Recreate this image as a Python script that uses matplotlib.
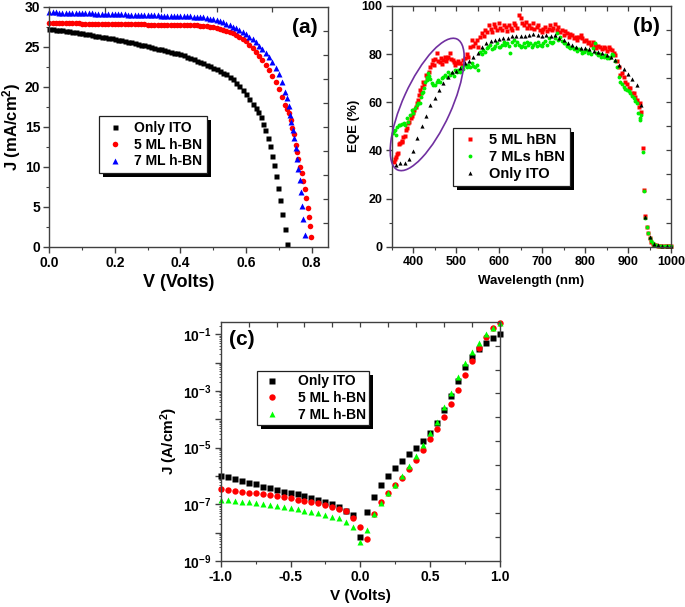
import numpy as np
import matplotlib
matplotlib.use('Agg')
import matplotlib.pyplot as plt
from matplotlib.patches import Ellipse, Rectangle
from matplotlib.transforms import IdentityTransform
from matplotlib.ticker import FixedLocator, NullFormatter, LogLocator, FuncFormatter, MultipleLocator

plt.rcParams['font.family'] = ['Liberation Sans', 'DejaVu Sans']
plt.rcParams['font.weight'] = 'bold'
plt.rcParams['axes.labelweight'] = 'bold'
plt.rcParams['mathtext.fontset'] = 'custom'
plt.rcParams['mathtext.rm'] = 'Liberation Sans:bold'
plt.rcParams['mathtext.bf'] = 'Liberation Sans:bold'
plt.rcParams['mathtext.it'] = 'Liberation Sans:bold'

# ---------------- (a) J-V under illumination ----------------
a_labels = ['Only ITO', '5 ML h-BN', '7 ML h-BN']
a_ito_v = np.round(np.arange(0, 0.635, 0.01), 2).tolist() + [0.637, 0.645, 0.652, 0.659, 0.666, 0.672, 0.679, 0.685, 0.692, 0.698, 0.705, 0.711, 0.719, 0.725]
a_ito_j = [27.30, 27.24, 27.18, 27.12, 27.06, 27.00, 26.94, 26.88, 26.82, 26.76,
           26.70, 26.63, 26.56, 26.50, 26.43, 26.36, 26.29, 26.22, 26.15, 26.08,
           26.00, 25.92, 25.83, 25.75, 25.66, 25.57, 25.48, 25.39, 25.30, 25.20,
           25.10, 25.00, 24.90, 24.80, 24.70, 24.60, 24.50, 24.40, 24.30, 24.20,
           24.10, 23.94, 23.78, 23.62, 23.46, 23.30, 23.12, 22.94, 22.76, 22.58,
           22.40, 22.20, 22.00, 21.80, 21.60, 21.30, 21.00, 20.55, 20.10, 19.60,
           19.10, 18.45, 17.80, 17.35,
           16.9, 16.2, 15.4, 14.6, 13.6, 12.6, 11.4, 10.2, 8.8, 7.3, 5.8, 4.05, 2.25, 0.3]
a_5ml_v = np.round(np.arange(0, 0.725, 0.01), 2).tolist() + [0.726, 0.731, 0.737, 0.741, 0.746, 0.751, 0.755, 0.759, 0.764, 0.770, 0.774, 0.779, 0.784, 0.788, 0.792, 0.795, 0.799]
a_5ml_j = [28.00, 27.99, 27.99, 27.98, 27.97, 27.97, 27.96, 27.95, 27.95, 27.94,
           27.93, 27.93, 27.92, 27.91, 27.91, 27.90, 27.89, 27.89, 27.88, 27.87,
           27.87, 27.86, 27.85, 27.85, 27.84, 27.83, 27.83, 27.82, 27.81, 27.81,
           27.80, 27.79, 27.79, 27.78, 27.77, 27.77, 27.76, 27.75, 27.75, 27.74,
           27.73, 27.73, 27.72, 27.71, 27.71, 27.70,
           27.67, 27.63, 27.58, 27.53, 27.47, 27.39, 27.30, 27.18, 27.05, 26.90,
           26.73, 26.52, 26.28, 26.00, 25.70, 25.30, 24.90, 24.40, 23.90, 23.35,
           22.75, 22.10, 21.40, 20.60, 19.70, 18.70, 17.70,
           17.25, 16.75, 15.85, 14.9, 14.1, 12.7, 11.9, 11.0, 10.0, 9.2, 8.2, 7.2, 6.05, 4.9, 3.75, 2.55, 1.2]
a_7ml_v = np.round(np.arange(0, 0.725, 0.01), 2).tolist() + [0.726, 0.730, 0.734, 0.738, 0.742, 0.746, 0.751, 0.755, 0.759, 0.764, 0.767, 0.770, 0.774, 0.779]
a_7ml_j = [29.35, 29.34, 29.33, 29.31, 29.30, 29.29, 29.28, 29.26, 29.25, 29.24,
           29.23, 29.21, 29.20, 29.19, 29.18, 29.17, 29.15, 29.14, 29.13, 29.12,
           29.10, 29.09, 29.08, 29.07, 29.05, 29.04, 29.03, 29.02, 29.01, 28.99,
           28.98, 28.97, 28.96, 28.94, 28.93, 28.92, 28.91, 28.89, 28.88, 28.87,
           28.86, 28.85, 28.83, 28.82, 28.81, 28.80,
           28.75, 28.70, 28.63, 28.55, 28.45, 28.35, 28.23, 28.08, 27.92, 27.75,
           27.55, 27.33, 27.10, 26.85, 26.57, 26.28, 25.95, 25.58, 25.18, 24.74,
           24.25, 23.70, 23.10, 22.40, 21.60, 20.60, 19.40,
           18.6, 17.6, 16.5, 15.55, 14.6, 13.55, 12.4, 11.0, 9.7, 8.3, 6.8, 5.1, 3.45, 1.5]

# ---------------- (b) EQE ----------------
b_labels = ['5 ML hBN', '7 MLs hBN', 'Only ITO']
b_5ml_wl = [355, 358, 360, 363, 365, 368, 370, 373, 375, 377, 380, 383, 385, 388, 391, 395, 398, 400, 403, 406,
            409, 412, 414, 416, 418, 420, 423, 426, 430, 433, 437, 440, 443, 445, 448, 451, 455, 458, 462, 465,
            468, 470, 473, 476, 478, 482, 486, 489, 492, 494, 497, 501, 505, 509, 513, 517, 521, 525, 528, 532,
            536, 540, 544, 548, 552, 556, 560, 564, 568, 572, 576, 580, 583, 587, 591, 595, 599, 603, 607, 611,
            615, 619, 623, 627, 630, 634, 638, 642, 646, 650, 654, 658, 662, 666, 670, 674, 678, 682, 687, 691,
            695, 699, 703, 707, 711, 715, 718, 722, 726, 730, 734, 738, 742, 746, 750, 754, 758, 762, 766, 770,
            774, 778, 782, 786, 790, 794, 798, 802, 806, 810, 814, 818, 822, 826, 830, 835, 839, 843, 847, 851,
            855, 859, 863, 867, 870, 874, 878, 882, 886, 890, 894, 898, 902, 905, 909, 913, 917, 921, 925, 928,
            931, 934, 937, 940, 943, 946, 950, 954, 957, 961, 965, 970, 975, 980, 985, 990, 995, 1000]
b_5ml_eqe = [35.0, 36.5, 37.4, 38.5, 39.0, 42.5, 43.0, 43.3, 44.0, 45.5, 46.0, 48.5, 49.2, 51.3, 52.0, 53.4, 54.5, 55.4, 57.0, 58.2,
             59.5, 61.0, 63.0, 65.1, 64.0, 66.5, 68.5, 67.5, 71.3, 70.0, 72.7, 74.5, 76.0, 77.5, 75.5, 78.0, 80.3, 77.0, 76.8, 78.5,
             76.0, 77.5, 79.0, 77.0, 78.2, 79.0, 80.3, 78.0, 77.5, 76.8, 75.5, 76.2, 77.0, 76.2, 75.5, 77.5, 78.5, 80.0, 78.9, 83.0,
             85.9, 83.5, 84.5, 86.0, 83.1, 87.0, 88.7, 87.5, 90.0, 89.0, 92.1, 90.5, 89.4, 92.5, 91.4, 90.0, 92.8, 91.0, 90.0, 92.0,
             91.4, 89.5, 92.1, 91.0, 90.0, 93.0, 92.1, 91.0, 96.3, 95.0, 92.8, 92.0, 93.5, 90.7, 92.1, 91.0, 92.8, 90.5, 91.4, 92.0,
             90.0, 89.0, 90.5, 91.4, 89.5, 90.5, 92.1, 90.0, 91.0, 92.5, 90.0, 91.4, 89.0, 90.0, 88.0, 89.5, 88.7, 87.0, 88.5, 88.0,
             86.5, 87.3, 86.0, 87.0, 88.0, 86.5, 85.5, 85.9, 84.5, 85.2, 84.0, 85.0, 83.8, 82.5, 83.5, 83.1, 82.0, 83.0, 82.4, 81.5,
             83.1, 82.0, 81.7, 80.5, 79.6, 77.0, 74.8, 71.3, 72.0, 70.6, 68.5, 67.8, 66.0, 65.8, 64.0, 63.7, 62.0, 60.9, 58.2, 59.5,
             56.0, 40.8, 23.5, 12.8, 8.0, 5.8, 3.5, 2.0, 1.2, 0.7, 0.5, 0.3, 0.2, 0.2, 0.1, 0.1, 0.1, 0.1]
b_7ml_wl = [353, 356, 358, 360, 362, 366, 370, 374, 378, 382, 385, 389, 393, 397, 400, 404, 408, 412, 416, 418,
            420, 423, 426, 428, 431, 433, 435, 437, 440, 443, 447, 451, 455, 458, 462, 466, 470, 474, 478, 482,
            486, 490, 494, 497, 501, 505, 509, 513, 517, 521, 525, 528, 532, 536, 540, 544, 548, 552, 556, 560,
            563, 567, 571, 575, 579, 583, 587, 591, 595, 599, 603, 607, 611, 614, 618, 622, 626, 630, 634, 638,
            642, 646, 650, 654, 657, 661, 664, 668, 672, 676, 680, 684, 688, 691, 695, 699, 703, 707, 711, 715,
            719, 722, 726, 730, 734, 738, 742, 746, 750, 754, 758, 762, 766, 770, 774, 778, 782, 786, 790, 794,
            798, 802, 806, 810, 814, 818, 822, 826, 830, 834, 838, 843, 847, 851, 855, 859, 863, 866, 870, 874,
            878, 882, 886, 890, 894, 898, 902, 905, 909, 913, 917, 921, 924, 927, 929, 931,
            934, 937, 940, 943, 946, 950, 954, 957, 961, 965, 970, 975, 980, 985, 990, 995, 1000]
b_7ml_eqe = [47.1, 48.0, 48.5, 46.5, 49.9, 50.5, 50.6, 51.0, 51.3, 50.6, 53.4, 52.0, 54.8, 56.9, 55.4, 57.5, 59.0, 59.6, 59.6, 62.0,
             63.7, 64.4, 66.0, 68.5, 69.2, 70.5, 72.0, 71.0, 69.5, 68.0, 67.0, 67.3, 68.5, 69.2, 68.5, 70.0, 70.5, 71.3, 70.5, 72.7,
             71.5, 72.0, 71.0, 73.4, 72.5, 73.4, 72.5, 74.8, 74.0, 75.5, 74.5, 75.5, 74.5, 76.2, 75.0, 74.8, 75.5, 73.4, 81.0, 80.0,
             81.7, 81.0, 82.4, 83.0, 83.8, 82.0, 82.4, 83.5, 84.5, 83.0, 83.1, 84.0, 85.2, 84.0, 84.5, 83.5, 80.3, 85.0, 85.9, 84.0,
             85.2, 84.0, 83.1, 83.5, 84.5, 83.0, 85.2, 84.0, 84.5, 83.0, 83.8, 84.5, 83.5, 85.2, 84.0, 83.5, 84.5, 85.5, 84.0, 86.6,
             85.0, 84.5, 85.2, 86.5, 88.7, 86.0, 87.3, 85.5, 84.5, 84.5, 83.5, 83.1, 82.5, 83.0, 82.0, 82.4, 81.5, 82.0, 81.7, 80.5,
             81.0, 81.7, 80.5, 81.0, 80.0, 82.5, 84.5, 80.5, 79.6, 80.0, 79.0, 78.9, 79.5, 78.5, 78.2, 79.0, 80.0, 79.6, 77.0, 74.8,
             70.6, 68.5, 67.5, 66.5, 65.5, 65.1, 64.5, 63.7, 62.5, 61.6, 60.5, 59.6, 55.4, 52.5, 53.4, 54.8,
             39.5, 23.0, 12.0, 8.3, 5.5, 3.8, 2.2, 1.5, 0.9, 0.6, 0.4, 0.3, 0.2, 0.2, 0.2, 0.2, 0.2]
b_ito_wl = [360, 370, 380, 390, 400, 410, 420, 430, 440, 450, 460, 470, 480, 490, 500, 510, 520, 530, 540, 550,
            560, 570, 580, 590, 600, 610, 620, 630, 640, 650, 660, 670, 680, 690, 700, 710, 720, 730, 740, 750,
            760, 770, 780, 790, 800, 810, 820, 830, 840, 850, 860, 870, 880, 890, 900, 910, 920, 930, 940, 950,
            960, 970, 980, 990, 1000]
b_ito_eqe = [33.9, 34.6, 34.6, 36.3, 39.9, 45.0, 50.3, 54.4, 58.7, 61.7, 65.1, 68.1, 70.6, 72.7, 73.1, 74.1, 76.2, 77.1, 78.7, 80.3,
             82.8, 84.5, 85.6, 85.8, 86.2, 86.5, 86.8, 87.5, 87.5, 87.5, 87.5, 88.0, 88.2, 87.8, 87.5, 88.0, 87.7, 88.0, 86.6, 85.9,
             84.5, 83.8, 83.1, 82.7, 82.4, 82.0, 81.4, 81.0, 80.3, 79.6, 78.9, 77.5, 75.5, 73.8, 71.8, 69.7, 67.2, 58.7, 12.2, 4.2,
             1.2, 0.6, 0.4, 0.3, 0.3]

# ---------------- (c) dark J-V (log) ----------------
c_labels = ['Only ITO', '5 ML h-BN', '7 ML h-BN']
c_v = np.round(np.arange(-1.0, 1.001, 0.05), 2)
c_ito_log = [-6.00, -6.05, -6.12, -6.19, -6.24, -6.30, -6.38, -6.44, -6.50, -6.55, -6.59, -6.65, -6.71, -6.77, -6.85, -6.92, -7.00, -7.09, -7.23, -7.39,
             -8.17,
             -7.26, -6.73, -6.32, -5.99, -5.71, -5.46, -5.24, -5.00, -4.76, -4.49, -4.14, -3.67, -3.18, -2.65, -2.14, -1.79, -1.53, -1.29, -1.12, -0.99]
c_5ml_log = [-6.47, -6.50, -6.53, -6.55, -6.59, -6.61, -6.65, -6.67, -6.71, -6.73, -6.79, -6.83, -6.87, -6.92, -6.97, -7.03, -7.09, -7.17, -7.24, -7.50,
             -7.79,
             -8.24, -7.35, -6.93, -6.59, -6.32, -6.06, -5.76, -5.44, -5.08, -4.71, -4.34, -3.93, -3.46, -2.96, -2.44, -1.93, -1.47, -1.08, -0.79, -0.59]
c_7ml_log = [-6.83, -6.85, -6.87, -6.91, -6.93, -6.97, -7.00, -7.03, -7.06, -7.11, -7.14, -7.18, -7.23, -7.28, -7.32, -7.38, -7.44, -7.50, -7.61, -7.81,
             -8.32,
             -7.91, -7.35, -6.94, -6.61, -6.32, -6.00, -5.65, -5.28, -4.91, -4.49, -4.08, -3.58, -3.06, -2.52, -2.02, -1.61, -1.29, -1.00, -0.79, -0.59]

W, H = 685, 607
fig = plt.figure(figsize=(W / 100, H / 100), dpi=100)


def rect(l, t, r, b):
    return [l / W, 1 - b / H, (r - l) / W, (b - t) / H]


SPINE = '#404040'


def style(ax, fs):
    for s in ax.spines.values():
        s.set_linewidth(1.0)
        s.set_color(SPINE)
    ax.tick_params(which='both', direction='out', top=False, right=False, labelsize=fs, color=SPINE, pad=2.5)
    ax.tick_params(which='major', length=4, width=1)
    ax.tick_params(which='minor', length=2.5, width=0.8)


def mirror(ax, nx, ny):
    tx = ax.twiny()
    tx.set_xlim(0, nx)
    tx.xaxis.set_major_locator(FixedLocator(list(range(1, nx))))
    tx.tick_params(axis='x', which='major', direction='in', length=3.5, width=0.9, color=SPINE,
                   top=True, bottom=False, labeltop=False, labelbottom=False)
    tx.xaxis.set_minor_locator(FixedLocator([]))
    ty = ax.twinx()
    ty.set_yscale('linear')
    ty.set_ylim(0, ny)
    ty.yaxis.set_major_locator(FixedLocator(list(range(1, ny))))
    ty.yaxis.set_minor_locator(FixedLocator([]))
    ty.tick_params(axis='y', which='major', direction='in', length=3.5, width=0.9, color=SPINE,
                   right=True, left=False, labelright=False, labelleft=False)
    for t in (tx, ty):
        for s in t.spines.values():
            s.set_visible(False)


legends = []


def make_legend(ax, anchor, fs=10, hl=1.6, htp=0.6, bp=0.35):
    leg = ax.legend(loc='upper left', bbox_to_anchor=anchor, frameon=True, fancybox=False,
                    edgecolor='#202020', handlelength=hl, handletextpad=htp,
                    borderpad=bp, labelspacing=0.2, borderaxespad=0, framealpha=1,
                    prop={'weight': 'bold', 'size': fs})
    leg.get_frame().set_linewidth(0.9)
    leg.set_zorder(10)
    legends.append(leg)
    return leg


# ---------- panel (a)
axa = fig.add_axes(rect(49.3, 7, 328, 246.7))
axa.plot(a_ito_v, a_ito_j, ls='none', marker='s', ms=3.6, color='black', mec='none', clip_on=False, label=a_labels[0])
axa.plot(a_5ml_v, a_5ml_j, ls='none', marker='o', ms=4.0, color='#ff0000', mec='none', clip_on=False, label=a_labels[1])
axa.plot(a_7ml_v, a_7ml_j, ls='none', marker='^', ms=4.3, color='#0000ff', mec='none', clip_on=False, label=a_labels[2])
axa.set_xlim(0, 0.85)
axa.set_ylim(0, 30)
axa.xaxis.set_major_locator(FixedLocator([0, 0.2, 0.4, 0.6, 0.8]))
axa.xaxis.set_minor_locator(MultipleLocator(0.1))
axa.yaxis.set_major_locator(MultipleLocator(5))
axa.yaxis.set_minor_locator(MultipleLocator(2.5))
axa.xaxis.set_major_formatter(FuncFormatter(lambda v, p: f'{v:.1f}'))
style(axa, 10)
axa.set_xlabel('V (Volts)', fontsize=13)
axa.set_ylabel('J (mA/cm$^2$)', fontsize=12)
axa.xaxis.set_label_coords(0.465, -0.112)
axa.yaxis.set_label_coords(-0.095, 0.5)
axa.text(0.964, 0.955, '(a)', transform=axa.transAxes, ha='right', va='top', fontsize=15, fontweight='bold')
make_legend(axa, (0.179, 0.545), fs=10, hl=1.6, htp=0.55)
mirror(axa, 5, 10)

# ---------- panel (b)
axb = fig.add_axes(rect(391.7, 6, 671, 246.7))
axb.plot(b_5ml_wl, b_5ml_eqe, ls='none', marker='s', ms=2.6, color='#ff0000', mec='none', clip_on=False, label=b_labels[0])
axb.plot(b_7ml_wl, b_7ml_eqe, ls='none', marker='o', ms=2.8, color='#00ee00', mec='none', clip_on=False, label=b_labels[1])
axb.plot(b_ito_wl, b_ito_eqe, ls='none', marker='^', ms=3.0, color='black', mec='none', clip_on=False, label=b_labels[2])
axb.set_xlim(350, 1000)
axb.set_ylim(0, 100)
axb.xaxis.set_major_locator(MultipleLocator(100))
axb.xaxis.set_minor_locator(MultipleLocator(50))
axb.yaxis.set_major_locator(MultipleLocator(20))
axb.yaxis.set_minor_locator(MultipleLocator(10))
style(axb, 9)
axb.set_xlabel('Wavelength (nm)', fontsize=9.5)
axb.set_ylabel('EQE (%)', fontsize=9.5)
axb.xaxis.set_label_coords(0.5, -0.118)
axb.yaxis.set_label_coords(-0.112, 0.5)
axb.text(0.961, 0.955, '(b)', transform=axb.transAxes, ha='right', va='top', fontsize=15, fontweight='bold')
make_legend(axb, (0.2205, 0.492), fs=10.5, hl=1.6, htp=0.5)
mirror(axb, 13, 10)

# ---------- panel (c)
axc = fig.add_axes(rect(220.7, 321.7, 500, 561))
axc.set_yscale('log')
axc.plot(c_v, 10 ** np.array(c_ito_log), ls='none', marker='s', ms=4.2, color='black', mec='none', clip_on=False, label=c_labels[0])
axc.plot(c_v, 10 ** np.array(c_5ml_log), ls='none', marker='o', ms=4.6, color='#ff0000', mec='none', clip_on=False, label=c_labels[1])
axc.plot(c_v, 10 ** np.array(c_7ml_log), ls='none', marker='^', ms=5.0, color='#00ff00', mec='none', clip_on=False, label=c_labels[2])
axc.set_xlim(-1, 1)
axc.set_ylim(1e-9, 10 ** -0.555)
axc.xaxis.set_major_locator(MultipleLocator(0.5))
axc.xaxis.set_minor_locator(MultipleLocator(0.25))
axc.xaxis.set_major_formatter(FuncFormatter(lambda v, p: f'{v:.1f}'))
axc.yaxis.set_major_locator(LogLocator(base=10, numticks=30))
axc.yaxis.set_minor_locator(LogLocator(base=10, subs=np.arange(2, 10), numticks=30))
axc.yaxis.set_minor_formatter(NullFormatter())


def logfmt(v, p):
    e = int(round(np.log10(v)))
    return r'$10^{%d}$' % e if e % 2 != 0 else ''


axc.yaxis.set_major_formatter(FuncFormatter(logfmt))
style(axc, 10)
axc.tick_params(axis='y', which='minor', length=1.8, width=0.6)
axc.set_xlabel('V (Volts)', fontsize=11)
axc.set_ylabel('J (A/cm$^2$)', fontsize=11)
axc.xaxis.set_label_coords(0.5, -0.118)
axc.yaxis.set_label_coords(-0.145, 0.5)
axc.text(0.030, 0.964, '(c)', transform=axc.transAxes, ha='left', va='top', fontsize=15, fontweight='bold')
make_legend(axc, (0.129, 0.794), fs=10, hl=1.7, htp=1.0, bp=0.25)
mirror(axc, 10, 10)

# ---------- ellipse highlight on (b)
cx, cy = axb.transData.transform((432.7, 59.1))
ell = Ellipse((cx, cy), width=143.7, height=48.5, angle=65.6, transform=IdentityTransform(),
              fill=False, edgecolor='#7030a0', lw=1.2, clip_on=False, zorder=6)
axb.add_patch(ell)

# ---------- legend shadows
fig.canvas.draw()
for leg in legends:
    bb = leg.get_window_extent()
    sh = Rectangle((bb.x0 + 4, bb.y0 - 4), bb.width, bb.height, transform=IdentityTransform(),
                   facecolor='black', edgecolor='none', zorder=9)
    leg.axes.add_artist(sh)
    sh.set_clip_on(False)

fig.savefig('out.png', dpi=100)
